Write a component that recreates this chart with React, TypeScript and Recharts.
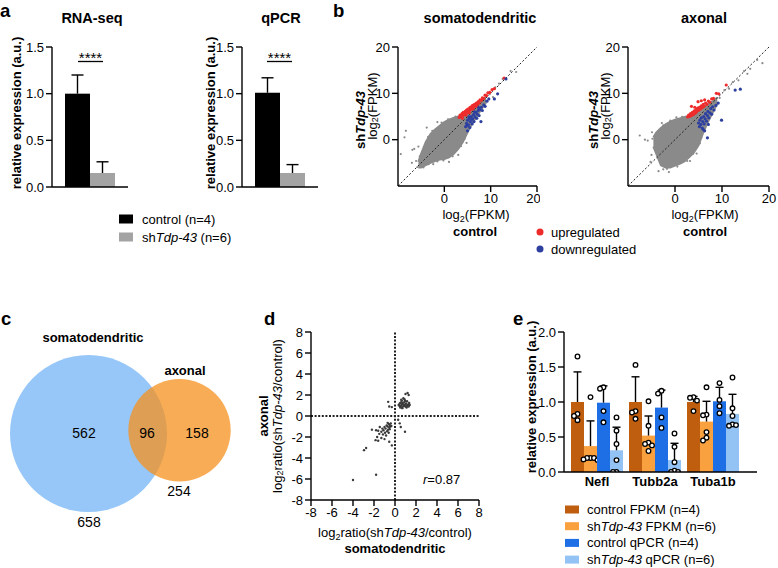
import React from "react";
import {
  BarChart,
  Bar,
  XAxis,
  YAxis,
  ComposedChart,
  Area,
  Scatter,
  ScatterChart,
  ZAxis,
  ReferenceLine,
} from "recharts";

const FONT = '"Liberation Sans", Arial, Helvetica, sans-serif';

// ---------- panel a ----------
const aGroups = ["control", "shTdp-43"];
const rnaSeqMean = [1.0, 0.15];
const rnaSeqSd = [0.2, 0.12];
const qpcrMean = [1.01, 0.15];
const qpcrSd = [0.16, 0.09];
const aTicks = [0, 0.5, 1, 1.5];

// ---------- panel b ----------
// dense grey cloud: [x, low, high] envelope
const somaCloud: [number, number, number][] = [
  [-5.6, -6, -4.8], [-5, -6, -3], [-4, -5.5, -0.5], [-3, -5, 1.2], [-2, -4.6, 2.2],
  [-1, -4.3, 3.0], [0, -4.2, 3.8], [1, -3.8, 4.3], [2, -3.1, 4.7], [3, -2, 5.0],
  [4, -0.5, 5.3], [5, 1.6, 6.2], [6, 3.5, 7.0], [7, 5.0, 7.7], [8, 6.6, 8.4], [9, 8.0, 9.2],
];
const somaGrey: [number, number][] = [
  [-8.3, 1.9], [-8.6, 0.5], [-9.4, -3.1], [-6.5, -2.0], [-6.9, -2.2], [-7.0, -5.0], [-5.8, -5.9],
  [-6.1, -4.6], [-4.5, -6.0], [-2.4, -5.3], [-3.8, 2.6], [-1.5, 3.8], [10.5, 9.2], [12.6, 13.1],
  [11.8, 12.1], [14.3, 14.8], [15.5, 14.6], [1, -4.8], [3.0, -3.3], [4.8, -0.7], [-5.6, -1.5],
  [9.8, 9.8], [11, 11.3], [-5.3, -3.6], [-4.4, -1.6], [-3.5, 0.6], [-2.6, 1.9], [-0.6, 3.7],
  [0.8, 4.4], [2.4, 5.0], [1.8, -3.6], [3.6, -1.4], [4.4, 0.2], [-3.4, -5.3], [-1.5, -4.7],
  [-4.8, -5.9], [-0.2, -4.5],
];
const somaUp: [number, number][] = [
  [3.2, 4.8], [3.4, 5.3], [3.6, 5.0], [3.8, 5.6], [4.0, 5.2], [4.1, 5.9], [4.3, 5.4], [4.5, 6.1],
  [4.6, 5.6], [4.8, 6.4], [5.0, 5.9], [5.1, 6.6], [5.3, 6.2], [5.5, 6.9], [5.6, 6.4], [5.8, 7.1],
  [6.0, 6.7], [6.1, 7.4], [6.3, 7.0], [6.5, 7.6], [6.7, 7.3], [6.9, 7.9], [7.1, 7.6], [7.3, 8.2],
  [7.5, 7.9], [7.7, 8.6], [8.0, 8.5], [8.2, 9.0], [8.5, 8.9], [8.8, 9.6], [9.1, 9.5], [9.4, 10.1],
  [9.8, 10.2], [10.3, 10.8], [10.8, 11.0], [12.9, 13.3], [3.9, 4.6], [4.7, 5.3], [5.4, 5.8],
  [6.2, 6.6], [7.0, 7.2],
];
const somaDown: [number, number][] = [
  [4.6, 2.8], [4.8, 3.5], [5.0, 1.9], [5.0, 4.2], [5.2, 3.2], [5.4, 4.6], [5.5, 2.6], [5.6, 3.9],
  [5.8, 5.0], [6.0, 3.4], [6.1, 4.5], [6.3, 5.4], [6.4, 3.9], [6.6, 4.9], [6.8, 5.9], [7.0, 4.6],
  [7.1, 5.5], [7.3, 6.3], [7.5, 5.2], [7.7, 6.5], [7.9, 3.9], [8.0, 7.0], [8.2, 6.3], [8.5, 7.5],
  [8.8, 7.2], [9.2, 8.3], [9.6, 8.8], [10.8, 8.8], [11.5, 9.9], [13.3, 13.1], [5.3, 4.9],
  [6.5, 6.0], [7.4, 6.9], [5.9, 4.4], [4.9, 3.0],
];
const axonCloud: [number, number, number][] = [
  [-4.6, -1.5, 0.5], [-4, -3, 1.5], [-3, -5.5, 2.5], [-2, -6, 3.3], [-1, -6, 3.9], [0, -5.6, 4.3],
  [1, -5.2, 4.6], [2, -4.7, 4.9], [3, -3.8, 5.1], [4, -2.8, 5.6], [5, -1.2, 6.3], [6, 1.5, 7.0],
  [7, 3.8, 7.6], [8, 5.8, 8.3], [9, 7.8, 9.1],
];
const axonGrey: [number, number][] = [
  [-7.5, 0.9], [-6.4, 0], [-5.8, -0.2], [-5.2, -4.8], [-3.5, -6.8], [-1.7, -6.3], [-1.3, -7.0],
  [-4.9, 1.6], [-2.8, 3.6], [0.3, 4.8], [5.3, -0.8], [4.6, -3.0], [3.2, -4.6], [9.5, 9.0],
  [10.5, 10.7], [11.5, 11.0], [12.3, 12.4], [13.5, 12.8], [14.7, 14.8], [16, 15.3], [17.5, 17.2],
  [18.6, 16.5], [15.4, 14.2], [-5, -3.3], [-4.2, -2.2], [-3.6, 1.8], [-2.5, 3.1], [-1.0, 4.1],
  [1.5, 4.9], [-2.5, -6.4], [0.5, -5.8], [2.6, -4.6], [3.8, -3.1], [4.7, -1.6], [5.6, 0.4],
  [-4.8, 0.2], [6.3, 2.5],
];
const axonUp: [number, number][] = [
  [2.7, 4.9], [2.9, 5.3], [3.1, 5.0], [3.3, 5.6], [3.5, 5.2], [3.7, 5.9], [3.9, 5.4], [4.1, 6.2],
  [4.3, 5.7], [4.5, 6.5], [4.6, 6.0], [4.8, 6.8], [5.0, 6.3], [5.2, 7.0], [5.4, 6.6], [5.6, 7.3],
  [5.8, 6.9], [6.0, 7.6], [6.2, 7.2], [6.5, 7.9], [6.8, 7.6], [7.1, 8.3], [7.4, 8.1], [7.8, 8.8],
  [8.2, 8.9], [8.8, 10.0], [9.3, 9.9], [10.9, 11.8], [4.9, 8.2], [3.5, 7.2], [5.6, 8.4],
  [4.2, 7.0], [6.3, 8.6],
];
const axonDown: [number, number][] = [
  [5.0, 3.6], [5.2, 2.8], [5.3, 4.2], [5.5, 3.3], [5.6, 4.7], [5.8, 2.5], [5.9, 3.9], [6.1, 5.0],
  [6.2, 3.4], [6.4, 4.5], [6.5, 5.6], [6.7, 4.0], [6.9, 5.2], [7.0, 6.1], [7.2, 4.7], [7.4, 5.8],
  [7.6, 6.7], [7.8, 5.5], [8.0, 7.1], [8.3, 6.4], [8.7, 7.4], [9.2, 7.9], [6.9, 0.4], [9.9, 4.2],
  [12.8, 10.7], [13.9, 10.9], [6.3, 1.9], [6.0, 2.2], [7.1, 3.3],
];
const bTicks = [0, 10, 20];

// ---------- panel c ----------
const vennNames = ["somatodendritic", "axonal"];
const vennTotals = [658, 254];
const vennOnly = [562, 158];
const vennShared = 96;

// ---------- panel d ----------
const dPoints: [number, number][] = [
  [0.35, 1.05], [0.45, 1.2], [0.5, 0.9], [0.55, 1.3], [0.6, 1.0], [0.65, 1.15], [0.7, 0.85],
  [0.75, 1.25], [0.8, 1.05], [0.85, 0.95], [0.9, 1.35], [0.95, 1.1], [1.0, 0.9], [1.05, 1.2],
  [1.1, 1.0], [1.15, 1.4], [1.2, 0.95], [1.25, 1.1], [1.3, 0.9], [1.4, 1.05], [0.6, 1.55],
  [0.8, 1.7], [0.9, 1.6], [1.0, 2.1], [1.2, 2.2], [1.3, 2.0], [0.7, 0.75], [0.5, 0.8], [1.1, 0.8],
  [0.4, 1.0], [1.35, 1.25], [0.95, 1.45], [0.65, 1.45], [-0.65, 1.35], [-0.55, 0.9], [-0.3, 0.85],
  [-0.4, -0.7], [-0.5, -0.85], [-0.6, -0.75], [-0.7, -1.0], [-0.55, -1.1], [-0.8, -0.9],
  [-0.9, -1.2], [-0.65, -1.3], [-0.45, -1.0], [-1.0, -1.05], [-1.1, -1.35], [-0.75, -1.45],
  [-0.95, -1.6], [-1.2, -1.2], [-1.3, -1.5], [-1.45, -1.05], [-1.6, -1.4], [-1.15, -1.75],
  [-0.85, -1.85], [-1.5, -1.7], [-1.8, -1.35], [-1.7, -2.0], [-1.85, -2.3], [-1.3, -2.1],
  [-1.0, -2.2], [-0.6, -1.6], [-0.5, -1.25], [-0.35, -0.95], [-0.7, -0.65], [-1.6, -2.35],
  [-2.95, -3.25], [-2.75, -3.05], [-1.8, -5.6], [-4.0, -6.1], [-0.55, -2.45], [-0.3, -2.8],
  [0.45, -0.7], [0.55, -1.05], [0.95, -1.5], [0.3, -0.35], [-2.2, -1.3],
];
const dTicks = [-8, -6, -4, -2, 0, 2, 4, 6, 8];

// ---------- panel e ----------
const eGenes = ["Nefl", "Tubb2a", "Tuba1b"];
const ctrlFpkmMean = [1.0, 1.0, 1.0];
const ctrlFpkmSd = [0.43, 0.36, 0.08];
const ctrlFpkmPts = [[1.65, 0.83, 0.8, 0.74], [1.53, 0.87, 0.85, 0.76], [1.07, 1.06, 1.02, 0.87]];
const shFpkmMean = [0.37, 0.52, 0.72];
const shFpkmSd = [0.36, 0.28, 0.29];
const shFpkmPts = [
  [1.07, 0.2, 0.2, 0.2, 0.18, 0.17],
  [1.01, 0.66, 0.42, 0.4, 0.38, 0.3],
  [1.21, 0.82, 0.81, 0.57, 0.49, 0.45],
];
const ctrlQpcrMean = [0.99, 0.92, 1.01];
const ctrlQpcrSd = [0.24, 0.25, 0.2];
const ctrlQpcrPts = [[1.21, 1.19, 0.87, 0.71], [1.16, 1.12, 0.78, 0.63], [1.27, 1.03, 0.94, 0.84]];
const shQpcrMean = [0.31, 0.17, 0.83];
const shQpcrSd = [0.33, 0.24, 0.28];
const shQpcrPts = [
  [0.78, 0.59, 0.4, 0.17, 0.0, 0.0],
  [0.55, 0.36, 0.14, 0.02, 0.0, 0.0],
  [1.35, 0.91, 0.8, 0.68, 0.66, 0.67],
];
const eTicks = [0, 0.5, 1, 1.5, 2];
const eLegend = ["control FPKM (n=4)", "FPKM (n=6)", "control qPCR (n=4)", "qPCR (n=6)"];

// ---------- styling ----------
const AX = { stroke: "#000", strokeWidth: 1.4 };
const TICK = { fill: "#000", fontSize: 13, fontFamily: FONT };
const GREY = "#8a8a8a";
const RED = "#ee2b2b";
const BLUE = "#2d40a0";
const eColors = ["#bf5e0f", "#f9a03f", "#1e6fe6", "#93c2f5"];

const toXY = (pts: [number, number][]) => pts.map(([x, y]) => ({ x, y }));

// offsets so that equal values don't sit on top of each other
function spread(pts: number[]) {
  return pts.map((v, i) => {
    const same = pts.filter((w, j) => j < i && Math.abs(w - v) < 0.06).length;
    return same === 0 ? 0 : (same % 2 ? -1 : 1) * Math.ceil(same / 2) * 3.5;
  });
}

// bar + upward SD whisker + individual points, all scaled from the bar geometry
const barShape =
  (meanKey: string, sdKey: string, ptsKey: string | null, capW: number, colors: string[] | string) =>
  (props: any) => {
    const { x, y, width, height, payload, index } = props;
    const mean = payload[meanKey];
    const ppu = mean ? height / mean : 0;
    const base = y + height;
    const cx = x + width / 2;
    const top = base - (mean + payload[sdKey]) * ppu;
    const fill = Array.isArray(colors) ? colors[index] : colors;
    const pts: number[] = ptsKey ? payload[ptsKey] : [];
    const offs = spread(pts);
    return (
      <g>
        <rect x={x} y={y} width={width} height={height} fill={fill} />
        <line x1={cx} x2={cx} y1={y} y2={top} stroke="#000" strokeWidth={1.4} />
        <line x1={cx - capW / 2} x2={cx + capW / 2} y1={top} y2={top} stroke="#000" strokeWidth={1.4} />
        {pts.map((p, i) => (
          <circle key={i} cx={cx + offs[i]} cy={base - p * ppu} r={2.3} fill="#fff" stroke="#000" strokeWidth={1.3} />
        ))}
      </g>
    );
  };

function PanelABar({ left, mean, sd }: { left: number; mean: number[]; sd: number[] }) {
  const rows = aGroups.map((g, i) => ({ group: g, mean: mean[i], sd: sd[i] }));
  return (
    <div style={{ position: "absolute", left, top: 0 }}>
      <BarChart width={132} height={200} data={rows} margin={{ top: 47, right: 4, bottom: 12, left: 12 }} barCategoryGap={0}>
        <XAxis dataKey="group" tick={false} tickLine={false} axisLine={AX} height={1} padding={{ left: 13, right: 13 }} />
        <YAxis type="number" domain={[0, 1.5]} ticks={aTicks} width={40} tick={TICK} tickLine={AX} axisLine={AX}
          tickFormatter={(v: number) => v.toFixed(1)} allowDataOverflow />
        <Bar dataKey="mean" isAnimationActive={false} shape={barShape("mean", "sd", null, 12, ["#000", "#a3a3a3"])} />
      </BarChart>
    </div>
  );
}

function PanelBScatter({ left, cloud, grey, up, down, ml, mr }: any) {
  const rows = cloud.map(([x, lo, hi]: number[]) => ({ x, band: [lo, hi] }));
  const dot = (r: number, c: string) => (p: any) => <circle cx={p.cx} cy={p.cy} r={r} fill={c} />;
  return (
    <div style={{ position: "absolute", left, top: 0 }}>
      <ComposedChart width={200} height={220} data={rows} margin={{ top: 47, right: mr, bottom: 4, left: ml }}>
        <XAxis type="number" dataKey="x" domain={[-10, 20]} ticks={bTicks} allowDataOverflow height={30}
          tick={TICK} tickLine={AX} axisLine={AX} />
        <YAxis type="number" domain={[-10, 20]} ticks={bTicks} allowDataOverflow width={40}
          tick={TICK} tickLine={AX} axisLine={AX} />
        <Area type="linear" dataKey="band" stroke={GREY} strokeWidth={2} fill={GREY} fillOpacity={1}
          isAnimationActive={false} dot={false} activeDot={false} />
        <Scatter data={toXY(grey)} dataKey="y" isAnimationActive={false} shape={dot(1.1, GREY)} />
        <Scatter data={toXY(up)} dataKey="y" isAnimationActive={false} shape={dot(1.6, RED)} />
        <Scatter data={toXY(down)} dataKey="y" isAnimationActive={false} shape={dot(1.6, BLUE)} />
        <ReferenceLine segment={[{ x: -10, y: -10 }, { x: 20, y: 20 }]} stroke="#222" strokeDasharray="2 2" strokeWidth={1} />
      </ComposedChart>
    </div>
  );
}

function PanelC() {
  // circle centres in the panel's own layout units; the radius comes from the set size via ZAxis
  const somato = [{ x: 88.5, y: 113.5, count: vennTotals[0] }];
  const axon = [{ x: 179.5, y: 110.3, count: vennTotals[1] }];
  return (
    <div style={{ position: "absolute", left: 0, top: 320 }}>
      <ScatterChart width={270} height={230} margin={{ top: 0, right: 0, bottom: 0, left: 0 }}>
        <XAxis type="number" dataKey="x" domain={[0, 270]} hide allowDataOverflow />
        <YAxis type="number" dataKey="y" domain={[0, 230]} hide reversed allowDataOverflow />
        <ZAxis type="number" dataKey="count" domain={[0, 658]} range={[1242, 19359]} />
        <Scatter data={somato} fill="#96c7f8" isAnimationActive={false} />
        <Scatter data={axon} fill="#f5901c" fillOpacity={0.75} isAnimationActive={false} />
      </ScatterChart>
    </div>
  );
}

function PanelD() {
  return (
    <div style={{ position: "absolute", left: 280, top: 320 }}>
      <ScatterChart width={205} height={210} margin={{ top: 12, right: 6, bottom: 0, left: 6 }}>
        <XAxis type="number" dataKey="x" domain={[-8, 8]} ticks={dTicks} allowDataOverflow height={30}
          tick={TICK} tickLine={AX} axisLine={AX} />
        <YAxis type="number" dataKey="y" domain={[-8, 8]} ticks={dTicks} allowDataOverflow width={25}
          tick={TICK} tickLine={AX} axisLine={AX} />
        <ReferenceLine x={0} stroke="#222" strokeWidth={2} strokeDasharray="2 1.6" />
        <ReferenceLine y={0} stroke="#222" strokeWidth={2} strokeDasharray="2 1.6" />
        <Scatter data={toXY(dPoints)} isAnimationActive={false}
          shape={(p: any) => <circle cx={p.cx} cy={p.cy} r={1.2} fill="#3a3a3a" />} />
      </ScatterChart>
    </div>
  );
}

function PanelE() {
  const rows = eGenes.map((g, i) => ({
    gene: g,
    cF: ctrlFpkmMean[i], cFsd: ctrlFpkmSd[i], cFpts: ctrlFpkmPts[i],
    sF: shFpkmMean[i], sFsd: shFpkmSd[i], sFpts: shFpkmPts[i],
    cQ: ctrlQpcrMean[i], cQsd: ctrlQpcrSd[i], cQpts: ctrlQpcrPts[i],
    sQ: shQpcrMean[i], sQsd: shQpcrSd[i], sQpts: shQpcrPts[i],
  }));
  const keys = ["cF", "sF", "cQ", "sQ"];
  return (
    <div style={{ position: "absolute", left: 520, top: 320 }}>
      <BarChart width={240} height={185} data={rows} margin={{ top: 12, right: 3, bottom: 3, left: 8 }}
        barCategoryGap={3} barGap={0}>
        <XAxis dataKey="gene" tickLine={false} tickSize={3} axisLine={AX} height={30} padding={{ left: 4, right: 15 }}
          tick={{ ...TICK, fontWeight: "bold" }} />
        <YAxis type="number" domain={[0, 2]} ticks={eTicks} width={36} tick={TICK} tickLine={AX} axisLine={AX}
          tickFormatter={(v: number) => v.toFixed(1)} allowDataOverflow />
        {keys.map((k, i) => (
          <Bar key={k} dataKey={k} isAnimationActive={false}
            shape={barShape(k, k + "sd", k + "pts", 8, eColors[i])} />
        ))}
      </BarChart>
    </div>
  );
}

const Log2 = ({ rest }: { rest: React.ReactNode }) => (
  <>
    <tspan>log</tspan>
    <tspan fontSize={9} dy={3}>2</tspan>
    <tspan dy={-3}>{rest}</tspan>
  </>
);

function VText({ x, y, bold, children }: any) {
  return (
    <text transform={`translate(${x} ${y}) rotate(-90)`} textAnchor="middle" dominantBaseline="central"
      fontWeight={bold ? "bold" : "normal"} fontSize={13}>
      {children}
    </text>
  );
}

function Overlay() {
  const it = (s: string) => <tspan fontStyle="italic">{s}</tspan>;
  return (
    <svg width={778} height={568} style={{ position: "absolute", left: 0, top: 0, pointerEvents: "none" }}
      fontFamily={FONT} fill="#000">
      {/* panel letters */}
      <g fontSize={18.5} fontWeight="bold">
        <text x={0} y={17}>a</text>
        <text x={333} y={17}>b</text>
        <text x={1} y={325}>c</text>
        <text x={264} y={325}>d</text>
        <text x={513} y={325}>e</text>
      </g>

      {/* a */}
      <g fontSize={14.5} fontWeight="bold" textAnchor="middle">
        <text x={92} y={23}>RNA-seq</text>
        <text x={281} y={23}>qPCR</text>
      </g>
      <VText x={16} y={113} bold>relative expression (a.u.)</VText>
      <VText x={210} y={113} bold>relative expression (a.u.)</VText>
      <g fontSize={15} textAnchor="middle">
        <text x={90.5} y={63}>****</text>
        <text x={279.5} y={63}>****</text>
      </g>
      <line x1={78} x2={103} y1={61.5} y2={61.5} stroke="#000" strokeWidth={1.3} />
      <line x1={267} x2={292} y1={61.5} y2={61.5} stroke="#000" strokeWidth={1.3} />
      <rect x={119} y={214.5} width={14} height={9} fill="#000" />
      <rect x={119} y={232.5} width={14} height={9} fill="#a3a3a3" />
      <g fontSize={13}>
        <text x={142} y={223.5}>control (n=4)</text>
        <text x={142} y={241.5}>sh{it("Tdp-43")} (n=6)</text>
      </g>

      {/* b */}
      <g fontSize={14.5} fontWeight="bold" textAnchor="middle">
        <text x={480} y={23}>somatodendritic</text>
        <text x={704} y={23}>axonal</text>
      </g>
      <VText x={360} y={120} bold>sh{it("Tdp-43")}</VText>
      <VText x={372} y={106}><Log2 rest="(FPKM)" /></VText>
      <VText x={593} y={120} bold>sh{it("Tdp-43")}</VText>
      <VText x={605} y={106}><Log2 rest="(FPKM)" /></VText>
      <g fontSize={13} textAnchor="middle">
        <text x={476} y={219}><Log2 rest="(FPKM)" /></text>
        <text x={705} y={219}><Log2 rest="(FPKM)" /></text>
        <text x={475} y={236} fontWeight="bold">control</text>
        <text x={705} y={236} fontWeight="bold">control</text>
      </g>
      <circle cx={540} cy={232} r={3.5} fill={RED} />
      <circle cx={540} cy={249} r={3.5} fill={BLUE} />
      <g fontSize={13}>
        <text x={551} y={236.5}>upregulated</text>
        <text x={551} y={253.5}>downregulated</text>
      </g>

      {/* c */}
      <g fontSize={13} fontWeight="bold" textAnchor="middle">
        <text x={93} y={342}>{vennNames[0]}</text>
        <text x={185} y={375}>{vennNames[1]}</text>
      </g>
      <g fontSize={14} textAnchor="middle">
        <text x={84} y={438}>{vennOnly[0]}</text>
        <text x={147} y={438}>{vennShared}</text>
        <text x={197} y={438}>{vennOnly[1]}</text>
        <text x={179} y={496}>{vennTotals[1]}</text>
        <text x={89} y={527}>{vennTotals[0]}</text>
      </g>

      {/* d */}
      <VText x={263} y={416} bold>axonal</VText>
      <VText x={277} y={416}><Log2 rest={<>ratio(sh{it("Tdp-43")}/control)</>} /></VText>
      <g fontSize={13} textAnchor="middle">
        <text x={395} y={537}><Log2 rest={<>ratio(sh{it("Tdp-43")}/control)</>} /></text>
        <text x={395} y={553} fontWeight="bold">somatodendritic</text>
      </g>
      <text x={423} y={484} fontSize={13}>{it("r")}=0.87</text>

      {/* e */}
      <VText x={531} y={397} bold>relative expression (a.u.)</VText>
      {eLegend.map((t, i) => {
        const cy = 509.5 + i * 16.7;
        return (
          <g key={t}>
            <rect x={565} y={cy - 4} width={14} height={8} fill={eColors[i]} />
            <text x={587} y={cy + 4.5} fontSize={13}>
              {i % 2 ? <>sh{it("Tdp-43")} {t}</> : t}
            </text>
          </g>
        );
      })}
    </svg>
  );
}

export default function App() {
  return (
    <div style={{ position: "absolute", left: 0, top: 0, width: 778, height: 568, background: "#fff", fontFamily: FONT }}>
      <PanelABar left={0} mean={rnaSeqMean} sd={rnaSeqSd} />
      <PanelABar left={190} mean={qpcrMean} sd={qpcrSd} />
      <PanelBScatter left={340} cloud={somaCloud} grey={somaGrey} up={somaUp} down={somaDown} ml={18} mr={3} />
      <PanelBScatter left={578} cloud={axonCloud} grey={axonGrey} up={axonUp} down={axonDown} ml={10} mr={9} />
      <PanelC />
      <PanelD />
      <PanelE />
      <Overlay />
    </div>
  );
}
